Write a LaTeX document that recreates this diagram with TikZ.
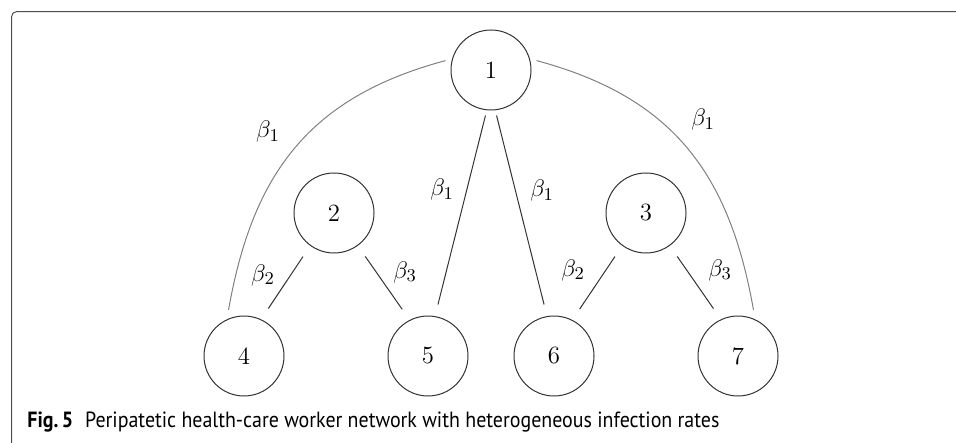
\documentclass[tikz,border=0pt]{standalone}
\usepackage{fontspec}
\usepackage{graphicx}
\usepackage{tikz}
\usetikzlibrary{positioning,calc}
\newfontfamily\capfont{PT Sans}

\begin{document}
\begin{tikzpicture}[
    font=\fontsize{12.4}{15}\selectfont,
    node distance=51.5pt,
    vertex/.style={draw=black!80, circle, line width=0.5pt, minimum size=40pt, inner sep=0pt},
    edgeline/.style={draw=black!80, line width=0.5pt, shorten <=6.5pt, shorten >=6.5pt},
    longline/.style={draw=black!80, line width=0.5pt, shorten <=2.7pt, shorten >=6pt},
    bowline/.style={draw=black!50, line width=0.5pt, shorten <=3.4pt, shorten >=4.8pt},
    ratelbl/.style={inner sep=0pt}
]
\useasboundingbox (0,0) rectangle (478pt,-221.5pt);

% Frame
\draw[black!70, line width=0.5pt, rounded corners=2.5pt] (5.8pt,-221.5pt) -- (5.8pt,-5.8pt) -- (478pt,-5.8pt);

% Bottom row
\node (n4) [vertex] at (122pt,-178pt) {4};
\node (n5) [vertex, right=of n4] {5};
\node (n6) [vertex, right=22.5pt of n5] {6};
\node (n7) [vertex, right=of n6] {7};

% Middle row and top
\node (n2) [vertex] at ($(n4)!0.5!(n5)+(-1pt,71.5pt)$) {2};
\node (n3) [vertex] at ($(n6)!0.5!(n7)+(0,71.5pt)$) {3};
\node (n1) [vertex] at ($(n5)!0.5!(n6)+(0,143pt)$) {1};

% Short links
\draw[edgeline] (n2.234) -- (n4.65);
\draw[edgeline] (n2.306) -- (n5.117);
\draw[edgeline] (n3.234) -- (n6.63);
\draw[edgeline] (n3.306) -- (n7.115);

% Links from 1
\draw[longline] (n1.264) -- (n5.80);
\draw[longline] (n1.276) -- (n6.100);
\draw[bowline] (n1.164) to[out=195, in=80, looseness=1.1] (n4.115);
\draw[bowline] (n1.16) to[out=-15, in=100, looseness=1.1] (n7.65);

% Rates
\node (b14) [ratelbl] at (134pt,-66pt) {$\beta_1$};
\node (b17) [ratelbl] at (351.5pt,-60pt) {$\beta_1$};
\node (b15) [ratelbl] at (221pt,-95pt) {$\beta_1$};
\node (b16) [ratelbl] at (271pt,-95.5pt) {$\beta_1$};
\node (b24) [ratelbl] at (131.5pt,-137.5pt) {$\beta_2$};
\node (b25) [ratelbl] at (202.5pt,-136pt) {$\beta_3$};
\node (b36) [ratelbl] at (286.5pt,-135pt) {$\beta_2$};
\node (b37) [ratelbl] at (360pt,-135pt) {$\beta_3$};

% Caption
\node (caption) [anchor=base west, inner sep=0pt, font=\capfont\fontsize{11}{13}\selectfont] at (13.5pt,-213.5pt)
    {\resizebox{346pt}{\height}{\textbf{Fig.\,5}\hspace{0.6em}Peripatetic health-care worker network with heterogeneous infection rates}};

\end{tikzpicture}
\end{document}
